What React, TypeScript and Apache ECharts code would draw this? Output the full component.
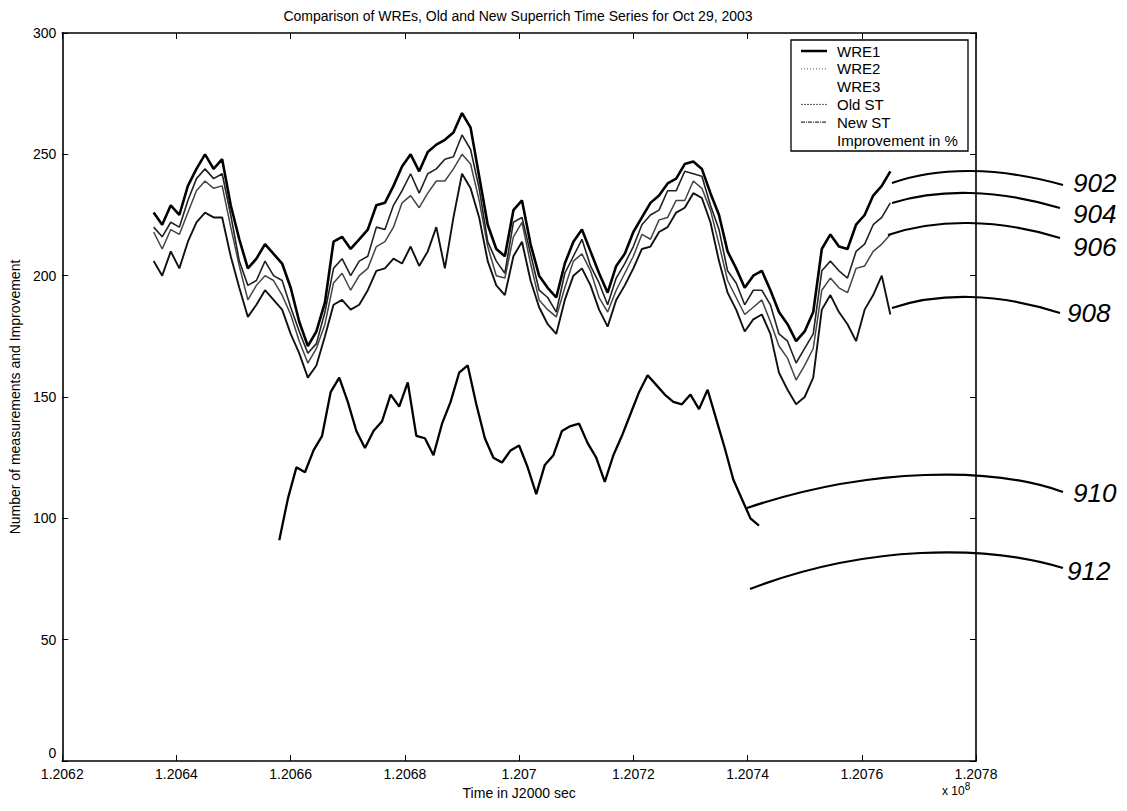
import React, { useEffect, useRef } from "react";
import * as echarts from "echarts";

const TITLE = "Comparison of WREs, Old and New Superrich Time Series for Oct 29, 2003";
const X_NAME = "Time in J2000 sec";
const Y_NAME = "Number of measurements and Improvement";

const X_MIN = 1.2062;
const X_MAX = 1.2078;
const X_STEP = 0.0002;
const Y_MIN = 0;
const Y_MAX = 300;
const Y_STEP = 50;

const TIMES = [
  1.20636, 1.206375, 1.20639, 1.206405, 1.20642, 1.206435, 1.20645, 1.206465, 1.20648, 1.206495,
  1.20651, 1.206525, 1.20654, 1.206555, 1.20657, 1.206585, 1.2066, 1.206615, 1.20663, 1.206645,
  1.20666, 1.206675, 1.20669, 1.206705, 1.20672, 1.206735, 1.20675, 1.206765, 1.20678, 1.206795,
  1.20681, 1.206825, 1.20684, 1.206855, 1.20687, 1.206885, 1.2069, 1.206915, 1.20693, 1.206945,
  1.20696, 1.206975, 1.20699, 1.207005, 1.20702, 1.207035, 1.20705, 1.207065, 1.20708, 1.207095,
  1.20711, 1.207125, 1.20714, 1.207155, 1.20717, 1.207185, 1.2072, 1.207215, 1.20723, 1.207245,
  1.20726, 1.207275, 1.20729, 1.207305, 1.20732, 1.207335, 1.20735, 1.207365, 1.20738, 1.207395,
  1.20741, 1.207425, 1.20744, 1.207455, 1.20747, 1.207485, 1.2075, 1.207515, 1.20753, 1.207545,
  1.20756, 1.207575, 1.20759, 1.207605, 1.20762, 1.207635, 1.20765,
];

// 902 (top line)
const WRE1 = [
  226, 221, 229, 225, 237, 244, 250, 244, 248, 229,
  215, 203, 207, 213, 209, 205, 195, 181, 171, 177,
  189, 214, 216, 211, 215, 219, 229, 230, 237, 245,
  250, 243, 251, 254, 256, 259, 267, 261, 241, 221,
  211, 208, 227, 231, 213, 200, 195, 191, 205, 214,
  219, 210, 201, 193, 204, 209, 218, 224, 230, 233,
  238, 240, 246, 247, 244, 234, 225, 210, 203, 195,
  200, 202, 194, 185, 180, 173, 177, 185, 211, 217,
  212, 211, 221, 225, 233, 237, 243,
];

// 904
const WRE2 = [
  220, 216, 222, 220, 231, 240, 244, 240, 242, 225,
  206, 196, 198, 206, 200, 198, 187, 177, 168, 172,
  185, 203, 207, 200, 206, 208, 220, 219, 229, 235,
  242, 234, 242, 244, 248, 249, 258, 252, 236, 214,
  206, 201, 222, 224, 209, 194, 191, 185, 201, 208,
  215, 204, 197, 188, 199, 205, 212, 221, 225, 227,
  235, 235, 243, 242, 241, 229, 219, 202, 197, 188,
  194, 194, 188, 176, 173, 164, 170, 176, 202, 206,
  202, 199, 210, 213, 221, 224, 230,
];

// 906
const OLD_ST = [
  218, 211, 219, 217, 226, 235, 239, 236, 237, 220,
  204, 190, 196, 200, 198, 192, 184, 173, 164, 170,
  180, 197, 201, 194, 200, 203, 212, 214, 220, 230,
  233, 228, 234, 239, 239, 244, 250, 246, 231, 212,
  200, 199, 216, 222, 205, 190, 186, 183, 195, 206,
  209, 202, 191, 185, 194, 201, 208, 217, 215, 223,
  224, 231, 231, 239, 236, 227, 213, 198, 191, 184,
  187, 190, 181, 171, 166, 157, 163, 170, 194, 199,
  195, 193, 203, 204, 210, 213, 217,
];

// 908 (lowest of the upper bundle)
const NEW_ST = [
  206, 200, 210, 203, 214, 222, 226, 224, 224, 208,
  195, 183, 188, 194, 190, 186, 176, 168, 158, 163,
  175, 188, 190, 186, 188, 194, 202, 203, 207, 205,
  212, 204, 210, 220, 203, 224, 242, 236, 224, 206,
  196, 192, 208, 214, 198, 187, 180, 176, 190, 200,
  203, 196, 186, 179, 190, 196, 203, 211, 212, 218,
  220, 226, 228, 234, 232, 222, 206, 193, 186, 177,
  182, 184, 176, 160, 153, 147, 150, 158, 186, 192,
  185, 180, 173, 186, 192, 200, 184,
];

const IMP_TIMES = [
  1.20658, 1.206595, 1.20661, 1.206625, 1.20664, 1.206655, 1.20667, 1.206685, 1.2067, 1.206715,
  1.20673, 1.206745, 1.20676, 1.206775, 1.20679, 1.206805, 1.20682, 1.206835, 1.20685, 1.206865,
  1.20688, 1.206895, 1.20691, 1.206925, 1.20694, 1.206955, 1.20697, 1.206985, 1.207, 1.207015,
  1.20703, 1.207045, 1.20706, 1.207075, 1.20709, 1.207105, 1.20712, 1.207135, 1.20715, 1.207165,
  1.20718, 1.207195, 1.20721, 1.207225, 1.20724, 1.207255, 1.20727, 1.207285, 1.2073, 1.207315,
  1.20733, 1.207345, 1.20736, 1.207375, 1.20739, 1.207405, 1.20742,
];

// 910
const IMPROVEMENT = [
  91, 108, 121, 119, 128, 134, 152, 158, 148, 136,
  129, 136, 140, 151, 146, 156, 134, 133, 126, 139,
  148, 160, 163, 147, 133, 125, 123, 128, 130, 121,
  110, 122, 126, 136, 138, 139, 131, 125, 115, 126,
  134, 143, 152, 159, 155, 151, 148, 147, 151, 145,
  153, 141, 129, 116, 108, 100, 97,
];

const LEGEND_NAMES = ["WRE1", "WRE2", "WRE3", "Old ST", "New ST", "Improvement in %"];

const FONT = "'Liberation Sans', Arial, Helvetica, sans-serif";

// annotation geometry (pixels)
const GRID = { left: 60, right: 151, top: 33, bottom: 50 };
const LEADERS = [
  { label: "902", p0: [892, 183], peak: [976, 171], p3: [1063, 185], lx: 1073, ly: 183 },
  { label: "904", p0: [892, 203], peak: [976, 193], p3: [1060, 208], lx: 1073, ly: 214 },
  { label: "906", p0: [888, 235], peak: [976, 223], p3: [1060, 238], lx: 1073, ly: 247 },
  { label: "908", p0: [892, 308], peak: [976, 297], p3: [1060, 313], lx: 1067, ly: 313 },
  { label: "910", p0: [747, 508], peak: [970, 475], p3: [1063, 492], lx: 1073, ly: 493 },
  { label: "912", p0: [750, 589], peak: [960, 553], p3: [1063, 568], lx: 1067, ly: 571 },
];

function pairs(xs: number[], ys: number[]) {
  return ys.map((v, i) => [xs[i], v]);
}

function leaderGraphics() {
  const els: any[] = [];
  LEADERS.forEach((L) => {
    const [x0, y0] = L.p0;
    const [xp, yp] = L.peak;
    const [x3, y3] = L.p3;
    const ycp = (8 * yp - y0 - y3) / 6;
    els.push({
      type: "bezierCurve",
      silent: true,
      z: 100,
      shape: {
        x1: x0,
        y1: y0,
        x2: x3,
        y2: y3,
        cpx1: x0 + (xp - x0) * 0.55,
        cpy1: ycp,
        cpx2: xp + (x3 - xp) * 0.25,
        cpy2: ycp,
      },
      style: { stroke: "#000", lineWidth: 2.2, fill: null },
    });
    els.push({
      type: "text",
      x: L.lx,
      y: L.ly,
      z: 100,
      style: {
        text: L.label,
        fontSize: 26,
        fontStyle: "italic",
        fontFamily: FONT,
        fill: "#000",
        textAlign: "left",
        textVerticalAlign: "middle",
      },
    });
  });
  return els;
}

function legendGraphics() {
  const bx = 791;
  const by = 40;
  const bw = 177;
  const bh = 111;
  const rowY0 = 51;
  const rowGap = 17.8;
  const styles: any[] = [
    { stroke: "#000", lineWidth: 2.5 },
    { stroke: "#777", lineWidth: 1.2, lineDash: [1, 2] },
    null,
    { stroke: "#555", lineWidth: 1, lineDash: [2, 1] },
    { stroke: "#333", lineWidth: 1.2, lineDash: [4, 1, 1, 1] },
    null,
  ];
  const els: any[] = [
    {
      type: "rect",
      z: 90,
      shape: { x: bx, y: by, width: bw, height: bh },
      style: { fill: "#fff", stroke: "#000", lineWidth: 1.3 },
    },
  ];
  LEGEND_NAMES.forEach((name, i) => {
    const y = rowY0 + rowGap * i;
    if (styles[i]) {
      els.push({
        type: "line",
        z: 91,
        shape: { x1: 801, y1: y, x2: 827, y2: y },
        style: styles[i],
      });
    }
    els.push({
      type: "text",
      z: 91,
      x: 837,
      y,
      style: {
        text: name,
        fontSize: 15,
        fontFamily: FONT,
        fill: "#000",
        textAlign: "left",
        textVerticalAlign: "middle",
      },
    });
  });
  return els;
}

export default function App() {
  const ref = useRef<HTMLDivElement>(null);

  useEffect(() => {
    document.body.style.margin = "0";
    if (!ref.current) return;
    const chart = echarts.init(ref.current, null, { renderer: "svg" });

    const fmt = (v: number) => v.toFixed(4).replace(/0+$/, "").replace(/\.$/, "");
    const yfmt = (v: number) => (v === 0 ? "{z|0}" : String(v));

    const axisLine = { show: true, onZero: false, lineStyle: { color: "#000", width: 1.6 } };
    const tick = { show: true, inside: true, length: 6, lineStyle: { color: "#000", width: 1 } };
    const option: any = {
      animation: false,
      backgroundColor: "#fff",
      textStyle: { fontFamily: FONT },
      grid: { ...GRID, containLabel: false },
      xAxis: [
        {
          type: "value",
          position: "bottom",
          min: X_MIN,
          max: X_MAX,
          interval: X_STEP,
          axisLine,
          axisTick: tick,
          axisLabel: { color: "#000", fontSize: 14, margin: 6, formatter: fmt, fontFamily: FONT },
          splitLine: { show: false },
          name: X_NAME,
          nameLocation: "middle",
          nameGap: 24,
          nameTextStyle: { color: "#000", fontSize: 14, fontFamily: FONT },
        },
        {
          type: "value",
          position: "top",
          min: X_MIN,
          max: X_MAX,
          interval: X_STEP,
          axisLine,
          axisTick: tick,
          axisLabel: { show: false },
          splitLine: { show: false },
        },
      ],
      yAxis: [
        {
          type: "value",
          position: "left",
          min: Y_MIN,
          max: Y_MAX,
          interval: Y_STEP,
          axisLine,
          axisTick: tick,
          axisLabel: {
            color: "#000",
            fontSize: 14,
            margin: 6,
            fontFamily: FONT,
            formatter: yfmt,
            rich: { z: { fontSize: 14, fontFamily: FONT, color: "#000", padding: [0, 0, 16, 0] } },
          },
          splitLine: { show: false },
          name: Y_NAME,
          nameLocation: "middle",
          nameGap: 38,
          nameRotate: 90,
          nameTextStyle: { color: "#000", fontSize: 14, fontFamily: FONT },
        },
        {
          type: "value",
          position: "right",
          min: Y_MIN,
          max: Y_MAX,
          interval: Y_STEP,
          axisLine,
          axisTick: tick,
          axisLabel: { show: false },
          splitLine: { show: false },
        },
      ],
      series: [
        {
          name: "WRE1",
          type: "line",
          data: pairs(TIMES, WRE1),
          symbol: "none",
          lineStyle: { color: "#000", width: 2.6 },
          z: 5,
        },
        {
          name: "WRE2",
          type: "line",
          data: pairs(TIMES, WRE2),
          symbol: "none",
          lineStyle: { color: "#222", width: 1.6 },
          z: 4,
        },
        {
          name: "WRE3",
          type: "line",
          data: [],
          symbol: "none",
          lineStyle: { color: "#fff", width: 1 },
        },
        {
          name: "Old ST",
          type: "line",
          data: pairs(TIMES, OLD_ST),
          symbol: "none",
          lineStyle: { color: "#444", width: 1.5 },
          z: 3,
        },
        {
          name: "New ST",
          type: "line",
          data: pairs(TIMES, NEW_ST),
          symbol: "none",
          lineStyle: { color: "#111", width: 1.9 },
          z: 3,
        },
        {
          name: "Improvement in %",
          type: "line",
          data: pairs(IMP_TIMES, IMPROVEMENT),
          symbol: "none",
          lineStyle: { color: "#000", width: 2.3 },
          z: 5,
        },
      ],
      graphic: [
        {
          type: "text",
          x: 518,
          y: 16,
          style: {
            text: TITLE,
            fontSize: 14,
            fontFamily: FONT,
            fill: "#000",
            textAlign: "center",
            textVerticalAlign: "middle",
          },
        },
        {
          type: "text",
          x: 942,
          y: 791,
          style: {
            text: "x 10{s|8}",
            fontSize: 12,
            fontFamily: FONT,
            fill: "#000",
            textAlign: "left",
            textVerticalAlign: "middle",
            rich: { s: { fontSize: 10, fontFamily: FONT, fill: "#000", padding: [0, 0, 9, 0] } },
          },
        },
        ...legendGraphics(),
        ...leaderGraphics(),
      ],
    };

    chart.setOption(option);
    return () => chart.dispose();
  }, []);

  return <div ref={ref} style={{ width: 1127, height: 811 }} />;
}
